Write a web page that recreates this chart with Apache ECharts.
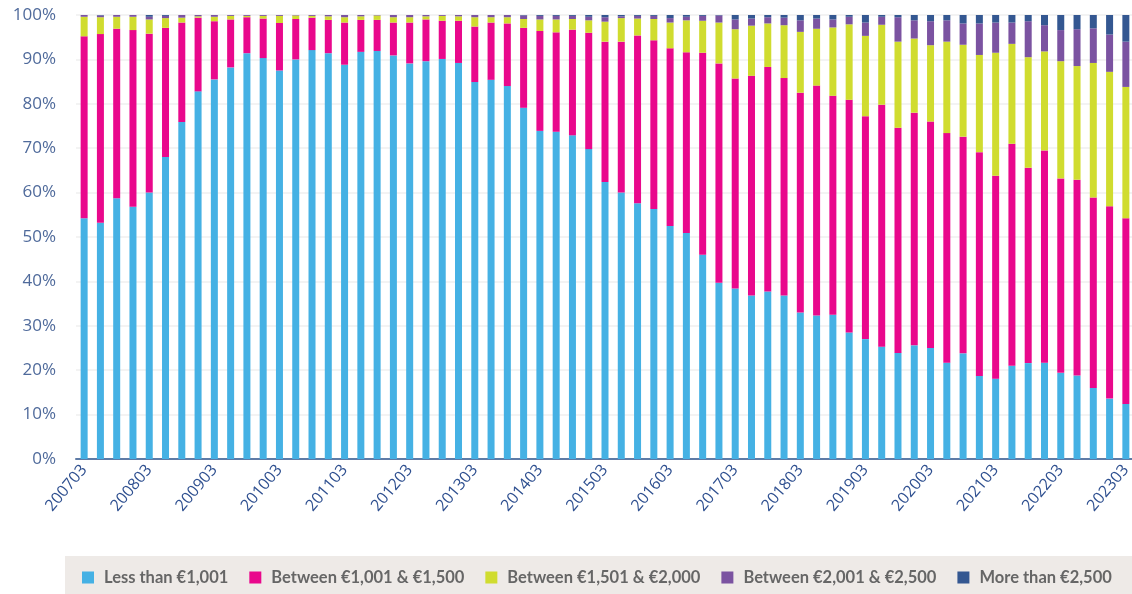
<!DOCTYPE html>
<html>
<head>
<meta charset="utf-8">
<script src="https://cdn.jsdelivr.net/npm/echarts@6/dist/echarts.min.js"></script>
<style>
  html, body { margin: 0; padding: 0; background: #ffffff; }
  #chart { width: 1132px; height: 594px; }
</style>
</head>
<body>
<div id="chart"></div>
<script>
// Quarterly reporting periods (YYYYMM)
const quarters = [
  '200703','200706','200709','200712','200803','200806','200809','200812',
  '200903','200906','200909','200912','201003','201006','201009','201012',
  '201103','201106','201109','201112','201203','201206','201209','201212',
  '201303','201306','201309','201312','201403','201406','201409','201412',
  '201503','201506','201509','201512','201603','201606','201609','201612',
  '201703','201706','201709','201712','201803','201806','201809','201812',
  '201903','201906','201909','201912','202003','202006','202009','202012',
  '202103','202106','202109','202112','202203','202206','202209','202212',
  '202303'
];

// Share of each income band, in percent
const lessThan1001 = [
  54.2, 53.2, 58.7, 56.8, 60.0, 68.0, 75.9, 82.8, 85.5, 88.2, 91.4, 90.3, 87.5,
  90.0, 92.1, 91.4, 88.8, 91.7, 91.9, 90.9, 89.1, 89.6, 90.1, 89.2, 84.9, 85.4,
  84.0, 79.1, 73.9, 73.7, 72.9, 69.8, 62.4, 60.0, 57.6, 56.3, 52.5, 50.9, 46.0,
  39.7, 38.4, 36.8, 37.7, 36.8, 33.0, 32.3, 32.5, 28.5, 27.0, 25.3, 23.9, 25.6,
  25.0, 21.7, 23.8, 18.7, 18.1, 21.0, 21.6, 21.7, 19.4, 18.8, 16.0, 13.6, 12.4
];
const from1001to1500 = [
  41.0, 42.5, 38.2, 39.8, 35.8, 29.1, 22.4, 16.6, 13.1, 10.8, 8.1, 8.9, 10.7,
  9.1, 7.3, 7.5, 9.5, 7.2, 7.0, 7.4, 9.2, 9.4, 8.6, 9.5, 12.5, 12.9,
  14.1, 18.0, 22.5, 22.4, 23.8, 26.2, 31.6, 34.0, 37.8, 38.0, 40.0, 40.7, 45.5,
  49.4, 47.3, 49.5, 50.6, 49.0, 49.5, 51.8, 49.3, 52.4, 50.2, 54.5, 50.7, 52.4,
  51.0, 51.7, 48.8, 50.4, 45.7, 50.0, 44.0, 47.8, 43.8, 44.1, 42.9, 43.3, 41.8
];
const from1501to2000 = [
  4.4, 3.8, 2.7, 3.0, 3.2, 2.2, 1.1, 0.3, 1.0, 0.8, 0.3, 0.6, 1.6,
  0.8, 0.4, 0.8, 1.2, 0.8, 1.0, 1.2, 1.2, 0.7, 1.1, 1.0, 2.1, 1.2,
  1.4, 2.0, 2.6, 2.9, 2.4, 2.8, 4.5, 5.3, 3.8, 4.8, 5.8, 7.2, 7.2,
  9.2, 11.1, 11.3, 9.8, 11.9, 13.7, 12.8, 15.4, 17.0, 18.1, 18.0, 19.4, 16.7,
  17.2, 20.6, 20.7, 21.9, 27.7, 22.5, 24.9, 22.3, 26.4, 25.6, 30.3, 30.3, 29.6
];
const from2001to2500 = [
  0.4, 0.4, 0.4, 0.4, 0.6, 0.5, 0.6, 0.3, 0.4, 0.2, 0.2, 0.2, 0.2,
  0.1, 0.2, 0.3, 0.5, 0.3, 0.1, 0.5, 0.5, 0.3, 0.2, 0.3, 0.5, 0.5,
  0.5, 0.8, 0.8, 0.8, 0.7, 0.8, 1.0, 0.4, 0.6, 0.7, 1.0, 0.8, 1.1,
  1.6, 2.2, 1.6, 1.4, 1.7, 2.6, 2.3, 1.8, 1.7, 3.0, 1.8, 5.5, 4.1,
  5.4, 4.8, 4.8, 7.1, 6.8, 4.8, 8.1, 5.9, 7.0, 8.3, 7.8, 8.4, 10.2
];
const moreThan2500 = [
  0.0, 0.1, 0.0, 0.0, 0.4, 0.2, 0.0, 0.0, 0.0, 0.0, 0.0, 0.0, 0.0,
  0.0, 0.0, 0.0, 0.0, 0.0, 0.0, 0.0, 0.0, 0.0, 0.0, 0.0, 0.0, 0.0,
  0.0, 0.1, 0.2, 0.2, 0.2, 0.4, 0.5, 0.3, 0.2, 0.2, 0.7, 0.4, 0.2,
  0.1, 1.0, 0.8, 0.5, 0.6, 1.2, 0.8, 1.0, 0.4, 1.7, 0.4, 0.5, 1.2,
  1.4, 1.2, 1.9, 1.9, 1.7, 1.7, 1.4, 2.3, 3.4, 3.2, 3.0, 4.4, 6.0
];

const bandNames = [
  'Less than €1,001',
  'Between €1,001 & €1,500',
  'Between €1,501 & €2,000',
  'Between €2,001 & €2,500',
  'More than €2,500'
];
const bandColors = ['#45b1e4', '#e9088c', '#d0dc2f', '#7b53a1', '#345791'];
const bandValues = [lessThan1001, from1001to1500, from1501to2000, from2001to2500, moreThan2500];

const chart = echarts.init(document.getElementById('chart'), null, { renderer: 'canvas' });

chart.setOption({
  backgroundColor: '#ffffff',
  animation: false,
  // light panel behind the legend row
  graphic: [{
    type: 'rect',
    left: 65,
    top: 556,
    shape: { width: 1067, height: 38 },
    style: { fill: '#eeeae7' },
    z: -1
  }],
  grid: {
    left: 76, top: 15, width: 1058, height: 444,
    containLabel: false,
    outerBoundsMode: 'none'
  },
  legend: {
    left: 82,
    top: 569,
    padding: 0,
    itemWidth: 12,
    itemHeight: 12,
    itemGap: 21,
    icon: 'rect',
    textStyle: {
      color: '#666666',
      fontFamily: 'Lato',
      fontWeight: 'bold',
      fontSize: 16.5,
      padding: [0, 0, 0, 5]
    },
    data: bandNames
  },
  xAxis: {
    type: 'category',
    data: quarters,
    axisLine: { show: true, lineStyle: { color: '#5e7ba6', width: 2 } },
    axisTick: { show: false },
    axisLabel: {
      interval: 3,
      rotate: 50,
      hideOverlap: false,
      margin: 8,
      color: '#2f5090',
      fontFamily: 'Open Sans',
      fontSize: 16
    },
    splitLine: { show: false }
  },
  yAxis: {
    type: 'value',
    min: 0,
    max: 100,
    interval: 10,
    axisLine: { show: false },
    axisTick: { show: false },
    axisLabel: {
      formatter: '{value}%',
      margin: 20,
      color: '#4f6a9b',
      fontFamily: 'Open Sans',
      fontSize: 17
    },
    splitLine: { show: true, lineStyle: { color: '#f3f3f3', width: 2 } }
  },
  series: bandNames.map((name, k) => ({
    name: name,
    type: 'bar',
    stack: 'share',
    barWidth: 7,
    itemStyle: { color: bandColors[k] },
    emphasis: { disabled: true },
    data: bandValues[k]
  }))
});
</script>
</body>
</html>
